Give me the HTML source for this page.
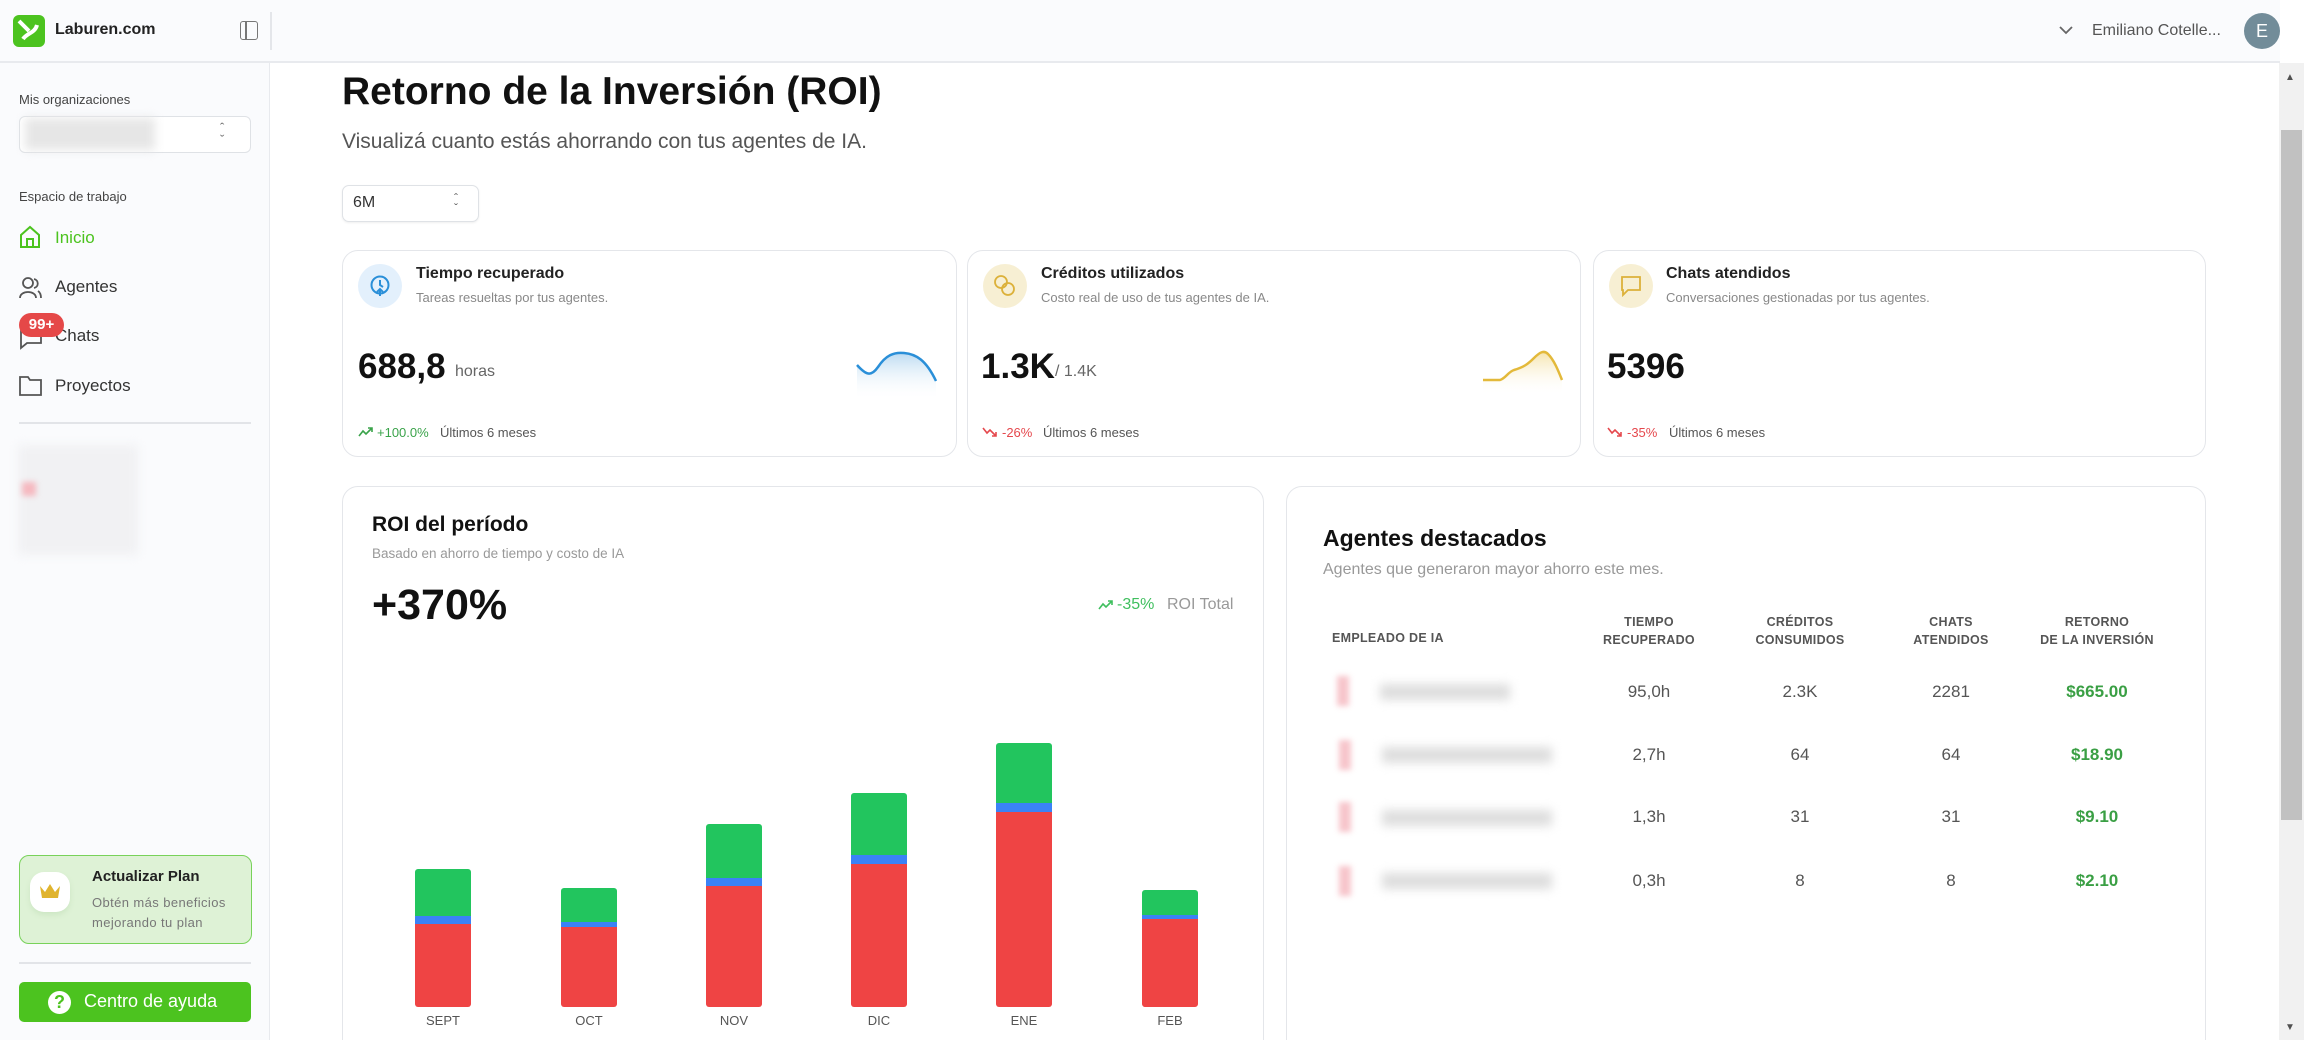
<!DOCTYPE html>
<html><head><meta charset="utf-8"><style>
*{margin:0;padding:0;box-sizing:border-box}
html,body{width:2304px;height:1040px;overflow:hidden}
body{background:#fff;font-family:"Liberation Sans",sans-serif;color:#111}
#w{position:relative;width:2304px;height:1040px;overflow:hidden}
.a{position:absolute;white-space:nowrap}
.card{position:absolute;background:#fff;border:1.5px solid #e4e6ea;border-radius:16px}
.th{position:absolute;font-size:12.5px;color:#555;text-align:center;line-height:18px;width:160px;margin-left:-80px;font-weight:bold;letter-spacing:.3px}
.td{position:absolute;font-size:17px;color:#555;text-align:center;width:160px;margin-left:-80px;line-height:22px}
.g{color:#3a9f44;font-weight:bold}
.bar{position:absolute;width:56px}
.blur{position:absolute;filter:blur(5px)}
</style></head><body><div id="w">
<!-- sidebar -->
<div class="a" style="left:0;top:0;width:270px;height:1040px;background:#fafbfd;border-right:1.5px solid #e8eaee"></div>
<div class="a" style="left:0;top:0;width:2280px;height:63px;background:#fafbfd;border-bottom:2px solid #e8eaee"></div>
<div class="a" style="left:270px;top:12px;width:1.5px;height:38px;background:#e4e6ea"></div>
<div class="a" style="left:13px;top:15px;width:32px;height:32px;background:#4cc31f;border-radius:6px"></div>
<svg class="a" style="left:13px;top:15px" width="32" height="32"><path d="M6 6 L16 16 M10 24 C14 18 22 18 24 10" stroke="#fff" stroke-width="4" fill="none"/></svg>
<div class="a" style="left:55px;top:21px;font-size:16px;font-weight:bold;color:#222">Laburen.com</div>
<div class="a" style="left:240px;top:21px;width:18px;height:19px;border:1.5px solid #777;border-radius:3px"></div>
<div class="a" style="left:245px;top:21px;width:1.5px;height:19px;background:#777"></div>
<div class="a" style="left:19px;top:92px;font-size:13px;color:#444">Mis organizaciones</div>
<div class="a" style="left:19px;top:116px;width:232px;height:37px;border:1.5px solid #dfe2e6;border-radius:6px;background:#fff"></div>
<div class="blur" style="left:25px;top:118px;width:130px;height:32px;background:#e6e6e6"></div>
<div class="a" style="left:220px;top:122px;font-size:13px;color:#666;line-height:12px">ˆ<br>ˇ</div>
<div class="a" style="left:19px;top:189px;font-size:13px;color:#444">Espacio de trabajo</div>
<svg class="a" style="left:19px;top:225px" width="22" height="24"><path d="M2 10 L11 2 L20 10 V22 H2 Z M8 22 V14 H14 V22" stroke="#4cc31f" stroke-width="2" fill="none"/></svg>
<div class="a" style="left:55px;top:228px;font-size:17px;color:#4cc31f">Inicio</div>
<svg class="a" style="left:19px;top:276px" width="24" height="24"><circle cx="9" cy="7" r="5" stroke="#555" stroke-width="1.8" fill="none"/><path d="M1 22 C1 14 17 14 17 22 M15 3 C20 4 20 11 15 12 M19 15 C22 17 22 20 22 22" stroke="#555" stroke-width="1.8" fill="none"/></svg>
<div class="a" style="left:55px;top:277px;font-size:17px;color:#333">Agentes</div>
<svg class="a" style="left:19px;top:326px" width="24" height="24"><path d="M2 3 H22 V17 H8 L2 22 Z" stroke="#555" stroke-width="1.8" fill="none"/></svg>
<div class="a" style="left:55px;top:326px;font-size:17px;color:#333">Chats</div>
<div class="a" style="left:19px;top:313px;width:45px;height:24px;background:#e54848;border-radius:12px;color:#fff;font-size:15px;font-weight:bold;text-align:center;line-height:24px">99+</div>
<svg class="a" style="left:19px;top:375px" width="24" height="22"><path d="M1 2 H9 L11 5 H22 V20 H1 Z" stroke="#555" stroke-width="1.8" fill="none"/></svg>
<div class="a" style="left:55px;top:376px;font-size:17px;color:#333">Proyectos</div>
<div class="a" style="left:19px;top:422px;width:232px;height:1.5px;background:#e2e4e8"></div>
<div class="blur" style="left:18px;top:445px;width:120px;height:110px;background:#f1f1f3"></div>
<div class="blur" style="left:22px;top:482px;width:14px;height:14px;background:#f5b8bf;filter:blur(3px)"></div>
<div class="a" style="left:19px;top:855px;width:233px;height:89px;background:#def2d6;border:1.5px solid #78d25a;border-radius:10px"></div>
<div class="a" style="left:30px;top:872px;width:40px;height:40px;background:#fff;border-radius:14px;box-shadow:0 3px 6px #cde6c4"></div>
<svg class="a" style="left:38px;top:882px" width="24" height="18"><path d="M2 4 L7 10 L12 2 L17 10 L22 4 L20 16 H4 Z" fill="#e0b42e"/></svg>
<div class="a" style="left:92px;top:868px;font-size:15px;font-weight:bold;color:#222">Actualizar Plan</div>
<div class="a" style="left:92px;top:895px;font-size:13px;color:#777;letter-spacing:.4px">Obtén más beneficios</div>
<div class="a" style="left:92px;top:915px;font-size:13px;color:#777;letter-spacing:.4px">mejorando tu plan</div>
<div class="a" style="left:19px;top:962px;width:232px;height:1.5px;background:#e2e4e8"></div>
<div class="a" style="left:19px;top:982px;width:232px;height:40px;background:#4cc31f;border-radius:5px"></div>
<div class="a" style="left:48px;top:991px;width:23px;height:23px;background:#fff;border-radius:50%;color:#4cc31f;font-weight:bold;font-size:18px;text-align:center;line-height:23px">?</div>
<div class="a" style="left:84px;top:991px;font-size:18px;color:#fff">Centro de ayuda</div>
<!-- top right -->
<svg class="a" style="left:2059px;top:25px" width="14" height="10"><path d="M1 2 L7 8 L13 2" stroke="#666" stroke-width="1.8" fill="none"/></svg>
<div class="a" style="left:2092px;top:22px;font-size:16px;color:#555">Emiliano Cotelle...</div>
<div class="a" style="left:2244px;top:13px;width:36px;height:36px;border-radius:50%;background:#728c99;color:#fff;font-size:18px;text-align:center;line-height:36px">E</div>
<!-- scrollbar -->
<div class="a" style="left:2279px;top:63px;width:25px;height:977px;background:#f1f1f1"></div>
<div class="a" style="left:2281px;top:130px;width:21px;height:690px;background:#c1c1c1"></div>
<div class="a" style="left:2285px;top:72px;font-size:10px;color:#505050">▲</div>
<div class="a" style="left:2285px;top:1022px;font-size:10px;color:#505050">▼</div>
<!-- title -->
<div class="a" style="left:342px;top:70px;font-size:39px;font-weight:bold;color:#111">Retorno de la Inversión (ROI)</div>
<div class="a" style="left:342px;top:130px;font-size:21px;color:#555">Visualizá cuanto estás ahorrando con tus agentes de IA.</div>
<div class="a" style="left:342px;top:185px;width:137px;height:37px;border:1.5px solid #dfe2e6;border-radius:7px;background:#fff;box-shadow:0 1px 2px #eee"></div>
<div class="a" style="left:353px;top:194px;font-size:16px;color:#333">6M</div>
<div class="a" style="left:454px;top:193px;font-size:12px;color:#666;line-height:10px">ˆ<br>ˇ</div>
<!-- stat cards -->
<div class="card" style="left:342px;top:250px;width:615px;height:207px"></div>
<div class="card" style="left:967px;top:250px;width:614px;height:207px"></div>
<div class="card" style="left:1593px;top:250px;width:613px;height:207px"></div>
<div class="a" style="left:358px;top:264px;width:44px;height:44px;border-radius:50%;background:#e3f0fc"></div>
<svg class="a" style="left:369px;top:274px" width="22" height="24"><circle cx="11" cy="11" r="8.5" stroke="#2a8fd8" stroke-width="2" fill="none"/><path d="M11 6 V11 L14 13 M11 22 V15 M8 18 L11 15 L14 18" stroke="#2a8fd8" stroke-width="2" fill="none"/></svg>
<div class="a" style="left:416px;top:265px;font-size:16px;font-weight:bold;color:#222">Tiempo recuperado</div>
<div class="a" style="left:416px;top:290px;font-size:13px;color:#888">Tareas resueltas por tus agentes.</div>
<div class="a" style="left:358px;top:347px;font-size:35px;font-weight:bold;color:#111">688,8</div>
<div class="a" style="left:455px;top:363px;font-size:16px;color:#666">horas</div>
<svg class="a" style="left:856px;top:350px" width="82" height="50"><defs><linearGradient id="gb" x1="0" y1="0" x2="0" y2="1"><stop offset="0" stop-color="#8fc2e8" stop-opacity=".6"/><stop offset="1" stop-color="#fff" stop-opacity="0"/></linearGradient><linearGradient id="gy" x1="0" y1="0" x2="0" y2="1"><stop offset="0" stop-color="#f1d889" stop-opacity=".7"/><stop offset="1" stop-color="#fff" stop-opacity="0"/></linearGradient></defs><path d="M1 15 C10 25 15 27 22 17 C30 5 38 2 48 3 C60 4 70 10 80 31 V50 H1 Z" fill="url(#gb)"/><path d="M1 15 C10 25 15 27 22 17 C30 5 38 2 48 3 C60 4 70 10 80 31" stroke="#2a8fd8" stroke-width="2.5" fill="none"/></svg>
<svg class="a" style="left:358px;top:426px" width="16" height="12"><path d="M1 10 L5 5 L8 8 L14 2 M10 2 H14 V6" stroke="#3aa34a" stroke-width="1.6" fill="none"/></svg>
<div class="a" style="left:377px;top:425px;font-size:13px;color:#3aa34a">+100.0%</div>
<div class="a" style="left:440px;top:425px;font-size:13px;color:#555">Últimos 6 meses</div>

<div class="a" style="left:983px;top:264px;width:44px;height:44px;border-radius:50%;background:#f7efd3"></div>
<svg class="a" style="left:992px;top:273px" width="26" height="26"><circle cx="9" cy="9" r="6" stroke="#dcb13a" stroke-width="1.8" fill="none"/><circle cx="16" cy="16" r="6" stroke="#dcb13a" stroke-width="1.8" fill="none"/></svg>
<div class="a" style="left:1041px;top:265px;font-size:16px;font-weight:bold;color:#222">Créditos utilizados</div>
<div class="a" style="left:1041px;top:290px;font-size:13px;color:#888">Costo real de uso de tus agentes de IA.</div>
<div class="a" style="left:981px;top:347px;font-size:35px;font-weight:bold;color:#111">1.3K</div>
<div class="a" style="left:1055px;top:363px;font-size:16px;color:#666">/ 1.4K</div>
<svg class="a" style="left:1482px;top:350px" width="82" height="45"><path d="M1 30 H18 C24 28 26 22 32 20 C42 17 46 14 52 8 C58 2 62 0 66 4 C72 10 76 20 80 30 V45 H1 Z" fill="url(#gy)"/><path d="M1 30 H18 C24 28 26 22 32 20 C42 17 46 14 52 8 C58 2 62 0 66 4 C72 10 76 20 80 30" stroke="#e3b93a" stroke-width="2.5" fill="none"/></svg>
<svg class="a" style="left:982px;top:426px" width="16" height="12"><path d="M1 2 L5 7 L8 4 L14 10 M10 10 H14 V6" stroke="#e5484d" stroke-width="1.6" fill="none"/></svg>
<div class="a" style="left:1002px;top:425px;font-size:13px;color:#e5484d">-26%</div>
<div class="a" style="left:1043px;top:425px;font-size:13px;color:#555">Últimos 6 meses</div>

<div class="a" style="left:1609px;top:264px;width:44px;height:44px;border-radius:50%;background:#f7efd3"></div>
<svg class="a" style="left:1620px;top:275px" width="22" height="22"><path d="M2 2 H20 V15 H8 L3 20 V15 H2 Z" stroke="#dcb13a" stroke-width="1.8" fill="none"/></svg>
<div class="a" style="left:1666px;top:265px;font-size:16px;font-weight:bold;color:#222">Chats atendidos</div>
<div class="a" style="left:1666px;top:290px;font-size:13px;color:#888">Conversaciones gestionadas por tus agentes.</div>
<div class="a" style="left:1607px;top:347px;font-size:35px;font-weight:bold;color:#111">5396</div>
<svg class="a" style="left:1607px;top:426px" width="16" height="12"><path d="M1 2 L5 7 L8 4 L14 10 M10 10 H14 V6" stroke="#e5484d" stroke-width="1.6" fill="none"/></svg>
<div class="a" style="left:1627px;top:425px;font-size:13px;color:#e5484d">-35%</div>
<div class="a" style="left:1669px;top:425px;font-size:13px;color:#555">Últimos 6 meses</div>

<!-- ROI card -->
<div class="card" style="left:342px;top:486px;width:922px;height:580px"></div>
<div class="a" style="left:372px;top:513px;font-size:21px;font-weight:bold;color:#111">ROI del período</div>
<div class="a" style="left:372px;top:546px;font-size:13.5px;color:#999">Basado en ahorro de tiempo y costo de IA</div>
<div class="a" style="left:372px;top:581px;font-size:43px;font-weight:bold;color:#111">+370%</div>
<svg class="a" style="left:1098px;top:599px" width="16" height="12"><path d="M1 10 L5 5 L8 8 L14 2 M10 2 H14 V6" stroke="#3fbf5e" stroke-width="1.6" fill="none"/></svg>
<div class="a" style="left:1117px;top:596px;font-size:16px;color:#3fbf5e">-35%</div>
<div class="a" style="left:1167px;top:596px;font-size:16px;color:#999">ROI Total</div>

<div class="bar" style="left:415px;top:869px;height:47px;background:#22c55e;border-radius:3px 3px 0 0"></div>
<div class="bar" style="left:415px;top:916px;height:8px;background:#3b82f6"></div>
<div class="bar" style="left:415px;top:924px;height:83px;background:#ef4444;border-radius:0 0 3px 3px"></div>
<div class="bar" style="left:561px;top:888px;height:34px;background:#22c55e;border-radius:3px 3px 0 0"></div>
<div class="bar" style="left:561px;top:922px;height:5px;background:#3b82f6"></div>
<div class="bar" style="left:561px;top:927px;height:80px;background:#ef4444;border-radius:0 0 3px 3px"></div>
<div class="bar" style="left:706px;top:824px;height:54px;background:#22c55e;border-radius:3px 3px 0 0"></div>
<div class="bar" style="left:706px;top:878px;height:8px;background:#3b82f6"></div>
<div class="bar" style="left:706px;top:886px;height:121px;background:#ef4444;border-radius:0 0 3px 3px"></div>
<div class="bar" style="left:851px;top:793px;height:62px;background:#22c55e;border-radius:3px 3px 0 0"></div>
<div class="bar" style="left:851px;top:855px;height:9px;background:#3b82f6"></div>
<div class="bar" style="left:851px;top:864px;height:143px;background:#ef4444;border-radius:0 0 3px 3px"></div>
<div class="bar" style="left:996px;top:743px;height:60px;background:#22c55e;border-radius:3px 3px 0 0"></div>
<div class="bar" style="left:996px;top:803px;height:9px;background:#3b82f6"></div>
<div class="bar" style="left:996px;top:812px;height:195px;background:#ef4444;border-radius:0 0 3px 3px"></div>
<div class="bar" style="left:1142px;top:890px;height:25px;background:#22c55e;border-radius:3px 3px 0 0"></div>
<div class="bar" style="left:1142px;top:915px;height:4px;background:#3b82f6"></div>
<div class="bar" style="left:1142px;top:919px;height:88px;background:#ef4444;border-radius:0 0 3px 3px"></div>
<div class="a" style="left:403px;top:1013px;width:80px;text-align:center;font-size:13px;color:#555">SEPT</div>
<div class="a" style="left:549px;top:1013px;width:80px;text-align:center;font-size:13px;color:#555">OCT</div>
<div class="a" style="left:694px;top:1013px;width:80px;text-align:center;font-size:13px;color:#555">NOV</div>
<div class="a" style="left:839px;top:1013px;width:80px;text-align:center;font-size:13px;color:#555">DIC</div>
<div class="a" style="left:984px;top:1013px;width:80px;text-align:center;font-size:13px;color:#555">ENE</div>
<div class="a" style="left:1130px;top:1013px;width:80px;text-align:center;font-size:13px;color:#555">FEB</div>

<!-- Agents card -->
<div class="card" style="left:1286px;top:486px;width:920px;height:580px"></div>
<div class="a" style="left:1323px;top:525px;font-size:23px;font-weight:bold;color:#111">Agentes destacados</div>
<div class="a" style="left:1323px;top:561px;font-size:16px;color:#999">Agentes que generaron mayor ahorro este mes.</div>
<div class="a" style="left:1332px;top:631px;font-size:12.5px;font-weight:bold;color:#555;letter-spacing:.3px">EMPLEADO DE IA</div>
<div class="th" style="left:1649px;top:613px">TIEMPO<br>RECUPERADO</div>
<div class="th" style="left:1800px;top:613px">CRÉDITOS<br>CONSUMIDOS</div>
<div class="th" style="left:1951px;top:613px">CHATS<br>ATENDIDOS</div>
<div class="th" style="left:2097px;top:613px">RETORNO<br>DE LA INVERSIÓN</div>

<div class="blur" style="left:1337px;top:676px;width:12px;height:30px;background:#f7c5cb;filter:blur(3px)"></div>
<div class="blur" style="left:1380px;top:684px;width:130px;height:16px;background:#ddd"></div>
<div class="blur" style="left:1339px;top:740px;width:12px;height:30px;background:#f7c5cb;filter:blur(3px)"></div>
<div class="blur" style="left:1382px;top:747px;width:170px;height:16px;background:#ddd"></div>
<div class="blur" style="left:1339px;top:802px;width:12px;height:30px;background:#f7c5cb;filter:blur(3px)"></div>
<div class="blur" style="left:1382px;top:810px;width:170px;height:16px;background:#ddd"></div>
<div class="blur" style="left:1339px;top:866px;width:12px;height:30px;background:#f7c5cb;filter:blur(3px)"></div>
<div class="blur" style="left:1382px;top:873px;width:170px;height:16px;background:#ddd"></div>

<div class="td" style="left:1649px;top:681px">95,0h</div><div class="td" style="left:1800px;top:681px">2.3K</div><div class="td" style="left:1951px;top:681px">2281</div><div class="td g" style="left:2097px;top:681px">$665.00</div>
<div class="td" style="left:1649px;top:744px">2,7h</div><div class="td" style="left:1800px;top:744px">64</div><div class="td" style="left:1951px;top:744px">64</div><div class="td g" style="left:2097px;top:744px">$18.90</div>
<div class="td" style="left:1649px;top:806px">1,3h</div><div class="td" style="left:1800px;top:806px">31</div><div class="td" style="left:1951px;top:806px">31</div><div class="td g" style="left:2097px;top:806px">$9.10</div>
<div class="td" style="left:1649px;top:870px">0,3h</div><div class="td" style="left:1800px;top:870px">8</div><div class="td" style="left:1951px;top:870px">8</div><div class="td g" style="left:2097px;top:870px">$2.10</div>
</div></body></html>
